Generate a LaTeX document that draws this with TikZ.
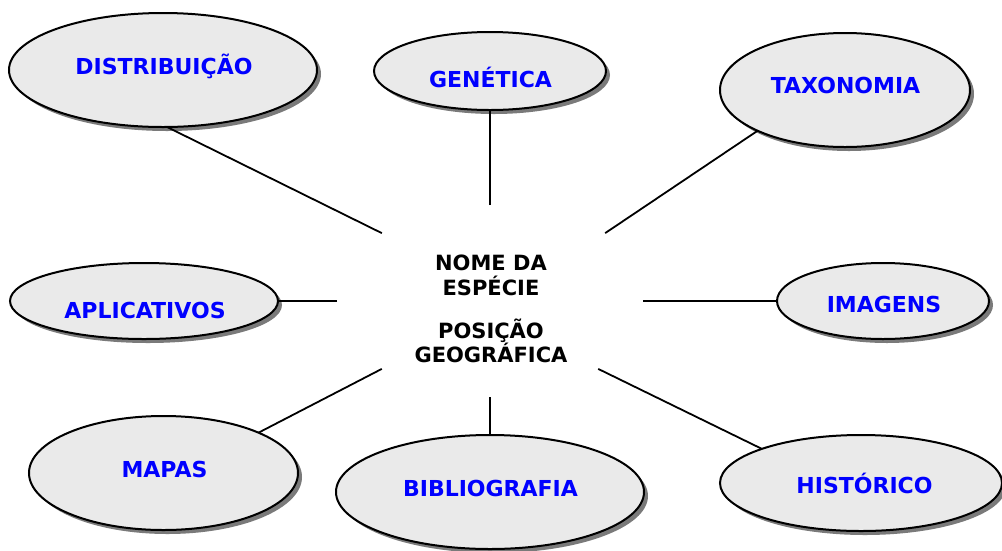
\documentclass[tikz,border=0pt]{standalone}
\usepackage{fontspec}
\setmainfont{DejaVu Sans}
\usetikzlibrary{shapes.geometric,shadows}
\definecolor{ellfill}{HTML}{EAEAEA}
\definecolor{shadowgray}{HTML}{7A7A7A}
\definecolor{labelblue}{HTML}{0000FF}
\begin{document}
\begin{tikzpicture}[x=1pt,y=-1pt,
  topic/.style={ellipse, draw=black, line width=2pt, fill=ellfill,
    inner sep=0pt, outer sep=0pt,
    drop shadow={shadow xshift=4pt, shadow yshift=-4pt, fill=shadowgray, opacity=1}},
  lbl/.style={anchor=base, text=labelblue, font=\fontsize{22}{26}\selectfont\bfseries, inner sep=0pt},
  link/.style={line width=1.8pt, draw=black},
  hub/.style={ellipse, draw=none, inner sep=0pt, outer sep=0pt,
    minimum width=306pt, minimum height=192pt},
  hubtext/.style={font=\fontsize{21}{24.5}\selectfont\bfseries, align=center, inner sep=0pt}]
\useasboundingbox (0,0) rectangle (1002,550);

% hub
\node[hub] (c) at (490,301) {};
\node[hubtext] (ctext) at (491,309) {NOME DA\\ESPÉCIE\\[18.5pt]POSIÇÃO\\GEOGRÁFICA};

% topic ellipses
\node[topic, minimum width=308pt, minimum height=114pt] (dist) at (163,70) {};
\node[topic, minimum width=232pt, minimum height=78pt] (gen) at (490,71) {};
\node[topic, minimum width=250pt, minimum height=114pt] (tax) at (845,90) {};
\node[topic, minimum width=268pt, minimum height=76pt] (aplic) at (144,301) {};
\node[topic, minimum width=212pt, minimum height=76pt] (imag) at (883,301) {};
\node[topic, minimum width=269pt, minimum height=114pt] (mapas) at (163.5,473) {};
\node[topic, minimum width=308pt, minimum height=114pt] (bib) at (490,492) {};
\node[topic, minimum width=282pt, minimum height=96pt] (hist) at (861,483) {};

% labels
\node[lbl] (dist-t) at (164,74) {DISTRIBUIÇÃO};
\node[lbl] (gen-t) at (490.5,87) {GENÉTICA};
\node[lbl] (tax-t) at (845.5,93) {TAXONOMIA};
\node[lbl] (aplic-t) at (145,318) {APLICATIVOS};
\node[lbl] (imag-t) at (884,312) {IMAGENS};
\node[lbl] (mapas-t) at (164.5,477) {MAPAS};
\node[lbl] (bib-t) at (490.5,496) {BIBLIOGRAFIA};
\node[lbl] (hist-t) at (864.5,493) {HISTÓRICO};

% connectors
\draw[link] (c.north west) -- (dist.-86);
\draw[link] (c.north) -- (gen.south);
\draw[link] ([xshift=7pt]c.north east) -- (tax.205);
\draw[link] (c.east) -- (imag.west);
\draw[link] (c.south east) -- (hist.161);
\draw[link] (c.south) -- (bib.north);
\draw[link] (c.south west) -- (mapas.23);
\draw[link] (c.west) -- (aplic.east);
\end{tikzpicture}
\end{document}
